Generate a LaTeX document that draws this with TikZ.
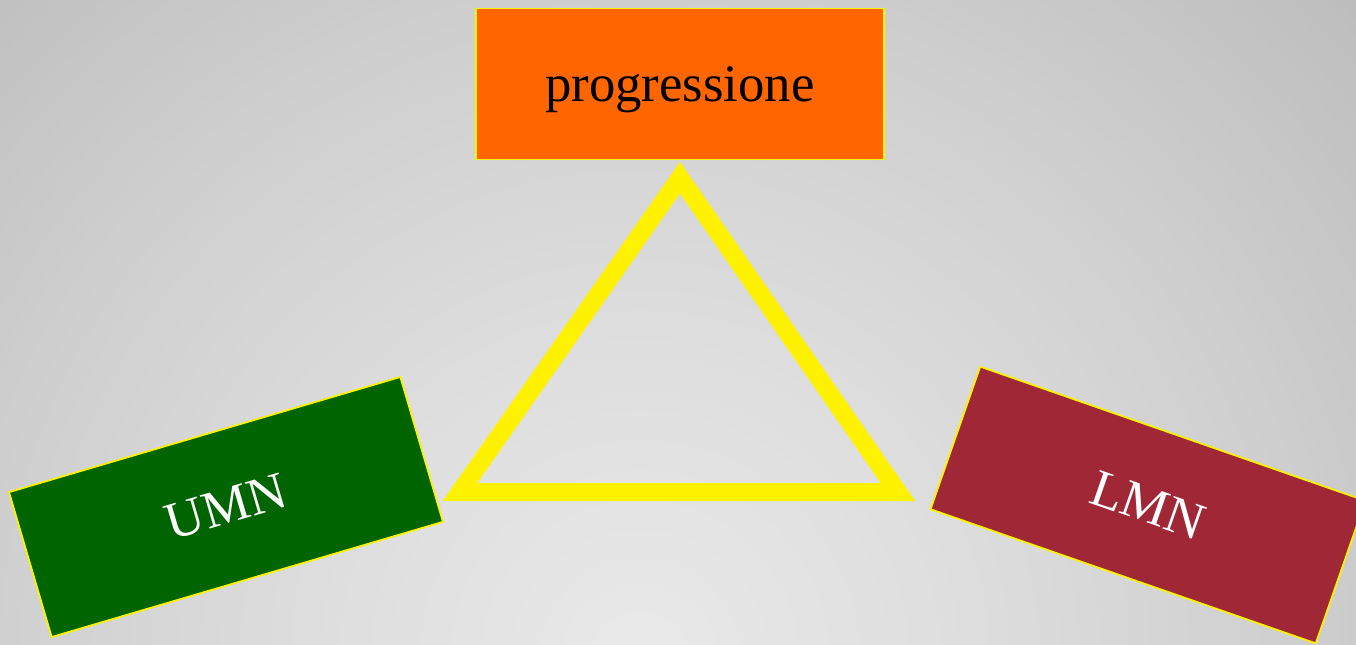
\documentclass[tikz,border=0pt]{standalone}
\usepackage{fontspec}
\setmainfont{Liberation Serif}
\usetikzlibrary{calc}

\definecolor{progorange}{HTML}{FF6600}
\definecolor{umngreen}{HTML}{006400}
\definecolor{lmnred}{HTML}{A02736}

\begin{document}
\begin{tikzpicture}[
    x=0.02cm, y=-0.02cm,
    font=\fontsize{30}{36}\selectfont,
    box/.style={rectangle, draw=yellow, line width=1pt,
                minimum width=8.16cm, minimum height=3.02cm,
                inner sep=0pt, align=center},
    tri/.style={draw=yellow, line width=0.36cm, line join=miter}
]

% Background: rings from dark corners to light bottom centre
\useasboundingbox (0,0) rectangle (1356,645);
\begin{scope}
    \clip (0,0) rectangle (1356,645);
    \coordinate (BG) at (640,660);
    \foreach \i in {100,...,1} {
        \pgfmathsetmacro{\d}{\i*10}
        \pgfmathsetmacro{\g}{(233-0.03*\d-0.000012*\d*\d)/255}
        \pgfmathsetmacro{\r}{\d*0.02}
        \definecolor{ringc}{gray}{\g}
        \fill[ringc] (BG) circle (\r cm);
    }
\end{scope}

% Top box
\node[box, fill=progorange, text=black, text depth=0pt] (PR) at (680,84) {progressione};

% Side boxes
\node[box, fill=umngreen, text=white, rotate=16.4] (UMN) at (226,507) {UMN};
\node[box, fill=lmnred, text=white, rotate=-19.2] (LMN) at (1148,505) {LMN};

% Triangle
\coordinate (TA) at (680,177.7);
\coordinate (TL) at (460,492);
\coordinate (TR) at (898,492);
\draw[tri] (TA) -- (TL) -- (TR) -- cycle;

\end{tikzpicture}
\end{document}
